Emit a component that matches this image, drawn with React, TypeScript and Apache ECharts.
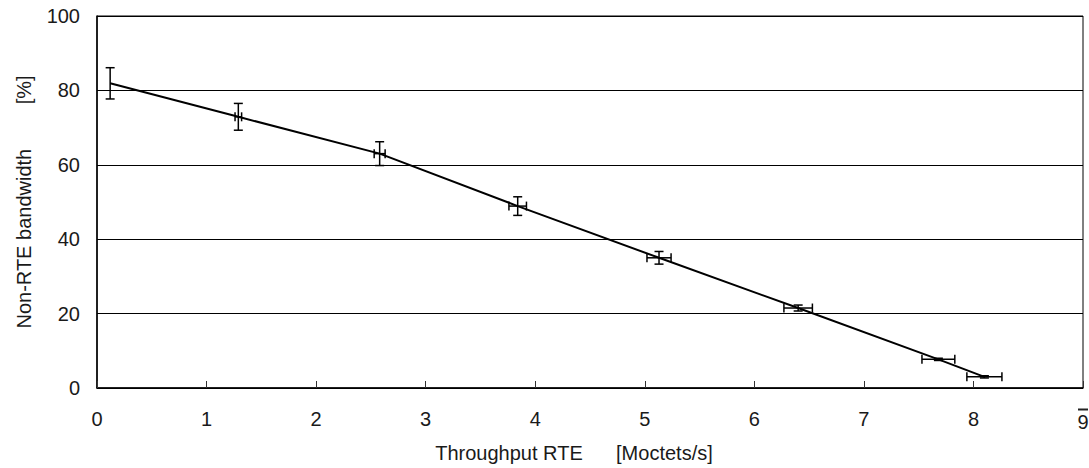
import React, { useEffect, useRef } from "react";
import * as echarts from "echarts";

const xVals = [0.12, 1.29, 2.58, 3.84, 5.13, 6.4, 7.68, 8.1];
const yVals = [81.9, 72.9, 63.0, 48.9, 35.0, 21.5, 7.7, 3.0];
const yErr = [4.2, 3.6, 3.2, 2.5, 1.7, 0.8, 0.3, 0.3];
const xErr = [0, 0.03, 0.05, 0.08, 0.11, 0.13, 0.15, 0.16];
const xTicks = [0, 1, 2, 3, 4, 5, 6, 7, 8, 9];
const yTicks = [0, 20, 40, 60, 80, 100];

const xTitle = "Throughput RTE      [Moctets/s]";
const yTitle = "Non-RTE bandwidth        [%]";

export default function App() {
  const ref = useRef<HTMLDivElement>(null);
  useEffect(() => {
    document.body.style.margin = "0";
    const chart = echarts.init(ref.current!, null, { renderer: "svg" });
    const font = "'Liberation Sans', Arial, sans-serif";
    const txt = "#1a1a1a";
    const points = xVals.map((x, i) => [x, yVals[i], xErr[i], yErr[i]]);
    const lastTick = xTicks[xTicks.length - 1];
    chart.setOption({
      animation: false,
      backgroundColor: "#fff",
      grid: {
        left: 97,
        right: 6,
        top: 16,
        bottom: 80,
        containLabel: false,
        outerBoundsMode: "none",
        show: true,
        borderColor: "#000",
        borderWidth: 1,
      },
      xAxis: {
        type: "value",
        min: xTicks[0],
        max: lastTick,
        interval: 1,
        name: xTitle,
        nameLocation: "middle",
        nameGap: 55,
        nameTextStyle: { fontFamily: font, fontSize: 20, color: txt, padding: [0, 32, 0, 0] },
        axisLine: { show: true, onZero: false, lineStyle: { color: "#000", width: 1.5 } },
        axisTick: { show: true, inside: true, length: 7, lineStyle: { color: "#333" } },
        splitLine: { show: false },
        axisLabel: {
          margin: 20,
          fontFamily: font,
          fontSize: 20,
          color: txt,
          formatter: (v: number) => (v === lastTick ? `{bar| }\n{n9|${v}}` : `{n|${v}}`),
          rich: {
            n: { fontFamily: font, fontSize: 20, lineHeight: 22, color: txt },
            n9: { fontFamily: font, fontSize: 20, lineHeight: 22, color: txt },
            bar: { width: 10, height: 2, lineHeight: 3, backgroundColor: "#222", fontSize: 2 },
          },
        },
      },
      yAxis: {
        type: "value",
        min: yTicks[0],
        max: yTicks[yTicks.length - 1],
        interval: 20,
        name: yTitle,
        nameLocation: "middle",
        nameGap: 63,
        nameRotate: 90,
        nameTextStyle: { fontFamily: font, fontSize: 20, color: txt },
        axisLine: { show: true, lineStyle: { color: "#000", width: 1.5 } },
        axisTick: { show: false },
        splitLine: { show: true, lineStyle: { color: "#000", width: 1 } },
        axisLabel: { margin: 17, fontFamily: font, fontSize: 20, color: txt, padding: [4, 0, 0, 0] },
      },
      series: [
        {
          type: "line",
          data: points.map((p) => [p[0], p[1]]),
          symbol: "none",
          lineStyle: { color: "#000", width: 2 },
          z: 3,
        },
        {
          type: "custom",
          data: points,
          z: 4,
          renderItem: (params: any, api: any) => {
            const x = api.value(0);
            const y = api.value(1);
            const ex = api.value(2);
            const ey = api.value(3);
            const cap = 4.5;
            const children: any[] = [];
            const style = { stroke: "#000", lineWidth: 1.5 };
            if (ey > 0) {
              const top = api.coord([x, y + ey]);
              const bot = api.coord([x, y - ey]);
              children.push(
                { type: "line", shape: { x1: top[0], y1: top[1], x2: bot[0], y2: bot[1] }, style },
                { type: "line", shape: { x1: top[0] - cap, y1: top[1], x2: top[0] + cap, y2: top[1] }, style },
                { type: "line", shape: { x1: bot[0] - cap, y1: bot[1], x2: bot[0] + cap, y2: bot[1] }, style }
              );
            }
            if (ex > 0) {
              const l = api.coord([x - ex, y]);
              const r = api.coord([x + ex, y]);
              children.push(
                { type: "line", shape: { x1: l[0], y1: l[1], x2: r[0], y2: r[1] }, style },
                { type: "line", shape: { x1: l[0], y1: l[1] - cap, x2: l[0], y2: l[1] + cap }, style },
                { type: "line", shape: { x1: r[0], y1: r[1] - cap, x2: r[0], y2: r[1] + cap }, style }
              );
            }
            return { type: "group", children };
          },
        },
      ],
    });
    return () => chart.dispose();
  }, []);
  return <div ref={ref} style={{ width: 1089, height: 468 }} />;
}
